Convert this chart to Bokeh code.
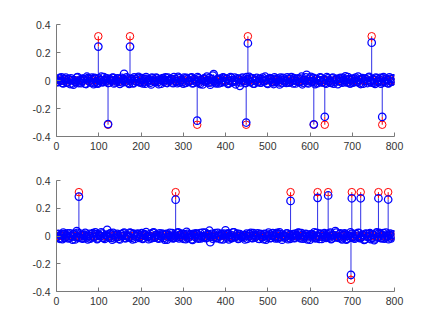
from bokeh.plotting import figure
from bokeh.layouts import column
from bokeh.models import FixedTicker, CustomJSTickFormatter
from bokeh.embed import file_html
from bokeh.resources import INLINE

# ---- data (values in thousandths) ----
noise_step = 4
# estimate noise at indices 0,4,8,...
top_noise = [5,-12,18,22,-20,8,-15,10,-25,3,
-30,-9,20,-18,6,-3,12,-22,27,9,
-14,21,-26,11,-19,15,4,-11,24,-8,
13,-16,7,19,-21,2,16,-10,9,-13,
48,-7,14,-24,10,-17,22,-5,18,-12,
6,-20,11,25,-9,3,-28,15,-6,20,
-11,8,-23,17,4,-15,21,-2,12,-19,
9,-8,26,-14,5,-22,13,19,-10,-4,
23,-17,7,-12,16,-25,2,11,-7,28,
-16,-30,9,45,-13,6,-21,14,-8,18,
-6,12,-19,24,-11,4,-27,16,8,-14,
20,-3,-18,10,26,-9,15,-22,3,-12,
11,-16,21,-7,5,-24,17,9,-13,22,
-10,14,-28,6,19,-5,-17,12,-9,25,
-20,8,-4,16,-11,27,-15,3,40,-21,
13,-6,18,-26,10,-2,22,-14,7,-18,
24,-9,-12,15,-23,5,11,-7,19,-16,
4,30,-13,9,-20,14,-8,21,-11,6,
-25,17,-3,12,-18,26,-6,10,-15,20,
-10,7,-22,16,-4,13,-19,23,-8,11]
# estimate noise at indices 2,6,10,...
top_noise_b = [-9,14,-3,-17,11,20,-13,7,16,-21,
2,-11,24,-6,-19,13,8,-25,17,-4,
10,-15,19,-8,-22,5,27,-12,3,15,
-18,9,-2,21,-14,-7,12,-24,18,6,
-10,23,-16,1,14,-20,9,-5,26,-13,
17,-8,-23,11,4,-15,20,-1,-12,16,
-26,7,13,-9,22,-18,3,10,-14,25,
-6,-19,15,2,-11,21,-17,8,-3,18,
-21,12,-7,24,-15,5,-28,16,-9,1,
19,-13,35,-4,-20,11,7,-16,23,-10,
14,-24,-2,18,-8,21,-12,9,-38,13,
-5,-17,24,6,-11,15,-22,3,19,-7,
-14,10,-3,27,-19,8,16,-9,-25,12,
4,-13,20,-18,7,-6,23,-15,11,-2,
17,-21,9,-10,14,-27,5,22,-16,-4,
26,-8,-14,12,-19,3,18,-11,8,-23,
15,-1,-17,21,-9,10,-26,13,-5,19,
-12,6,24,-20,2,-15,11,-7,28,-18,
9,-22,14,-3,20,-10,-16,7,-24,15,
-6,18,-11,25,-14,3,-20,12,-8,16]

bot_noise = [-8,15,-20,11,24,-13,6,-18,19,-4,
12,-25,35,-9,17,-15,8,22,-11,3,
-19,14,-6,26,-22,10,-3,18,-14,7,
45,-12,20,-27,9,-7,16,-20,13,-2,
25,-16,5,-10,21,-24,11,-5,17,-13,
8,-21,14,28,-8,2,-18,23,-12,6,
-15,19,-4,10,-26,15,-9,22,-3,-17,
12,-11,27,-6,18,-20,4,30,-14,9,
-23,16,-7,13,-19,21,-2,-12,24,-10,
7,-45,15,-8,20,-16,3,-22,11,18,
40,14,-24,9,-13,26,-7,17,-18,2,
-5,-11,6,-20,13,23,-15,8,-3,19,
-21,10,-9,16,-26,4,12,-14,21,-6,
15,-18,27,-8,3,-12,18,-23,9,-4,
14,-16,7,25,-11,20,-19,2,11,-9,
-27,13,6,-15,22,-7,17,-21,10,-3,
16,-12,24,-18,5,35,-8,-14,19,-24,
8,12,-20,3,26,-10,-16,15,-5,21,
-13,9,-28,18,-6,14,-22,11,-30,17,
-9,23,-15,6,-19,25,-4,10,-17,12]
bot_noise_b = [11,-16,7,-22,14,-5,19,-12,3,-26,
17,-8,23,-14,6,-19,10,-2,-24,15,
-11,20,-7,13,-17,4,26,-10,-21,8,
-3,16,-13,22,-18,9,-6,-25,12,19,
-15,5,-9,24,-12,18,-20,2,13,-7,
21,-16,8,-4,-23,15,-11,27,-6,10,
-19,3,17,-14,11,-26,6,-8,20,-13,
-2,23,-17,9,-10,14,-22,16,-5,12,
-28,7,19,-11,4,-18,25,-9,-15,13,
38,-6,-20,10,-13,22,-3,16,-24,8,
-12,19,-7,-16,26,-4,11,-21,14,-9,
5,-25,18,-2,13,-14,21,-10,7,-19,
16,-6,-23,12,-11,24,-15,3,9,-17,
22,-8,14,-27,6,-3,19,-12,-20,10,
-14,17,-5,23,-18,8,-9,15,-24,4,
12,-10,26,-16,2,-21,13,-7,20,-13,
-4,18,-22,9,-11,25,-8,14,-17,6,
19,-26,3,-12,16,-6,-19,11,23,-15,
-9,7,-24,14,-2,20,-13,8,-18,27,
-7,13,-16,21,-10,4,-23,17,-5,10]

# true (red) zero markers shown at every 8th index
zero_step = 8
n_samples = 800

top_spike_idx = [99, 122, 174, 333, 449, 453, 609, 635, 746, 771]
top_true = [0.316, -0.316, 0.316, -0.316, -0.316, 0.316, -0.316, -0.316, 0.316, -0.316]
top_est = [0.242, -0.311, 0.242, -0.287, -0.300, 0.266, -0.313, -0.259, 0.270, -0.260]

bot_spike_idx = [53, 282, 554, 618, 643, 697, 699, 720, 762, 785]
bot_true = [0.316, 0.316, 0.316, 0.316, 0.316, -0.316, 0.316, 0.316, 0.316, 0.316]
bot_est = [0.284, 0.262, 0.253, 0.275, 0.292, -0.280, 0.272, 0.272, 0.272, 0.263]

y_ticks = [-0.4, -0.2, 0, 0.2, 0.4]
x_ticks = [0, 100, 200, 300, 400, 500, 600, 700, 800]

BLUE = "#0000ff"
STEM_BLUE = "#2f2fe6"
RED = "#ff0000"
FONT = "Liberation Sans"


def make_plot(noise_a, noise_b, sidx, strue, sest, height, top_b, bot_b):
    p = figure(width=430, height=height, x_range=(0, 800), y_range=(-0.4, 0.4),
               output_backend="svg", toolbar_location=None,
               min_border_left=56, min_border_right=36,
               min_border_top=top_b, min_border_bottom=bot_b)
    p.outline_line_color = None
    p.grid.visible = False
    p.background_fill_color = "white"
    p.border_fill_color = "white"

    xa = [i * noise_step for i in range(len(noise_a))]
    xb = [i * noise_step + 2 for i in range(len(noise_b))]
    nx = xa + xb
    ny = [v / 1000.0 for v in noise_a] + [v / 1000.0 for v in noise_b]

    # true signal (red): zeros plus spikes; red stem only visible beyond the estimate
    zx = list(range(0, n_samples + 1, zero_step))
    rx = zx + sidx
    ry = [0.0] * len(zx) + strue
    p.segment(x0=sidx, y0=sest, x1=sidx, y1=strue, line_color=RED, line_width=1)
    p.scatter(rx, ry, marker="circle", size=7.5, fill_color=None, line_color=RED, line_width=1)

    # estimate (blue)
    bx = nx + sidx
    by = ny + sest
    p.segment(x0=bx, y0=[0] * len(bx), x1=bx, y1=by, line_color=STEM_BLUE, line_width=1)
    p.scatter(bx, by, marker="circle", size=7.5, fill_color=None, line_color=BLUE, line_width=1.25)

    for ax in (p.xaxis[0], p.yaxis[0]):
        ax.axis_line_color = "#7a7a7a"
        ax.major_tick_line_color = "#7a7a7a"
        ax.major_tick_in = 4
        ax.major_tick_out = 0
        ax.minor_tick_line_color = None
        ax.major_label_text_font = FONT
        ax.major_label_text_font_size = "10.5px"
        ax.major_label_text_color = "#333333"
    p.xaxis[0].ticker = FixedTicker(ticks=x_ticks)
    p.yaxis[0].ticker = FixedTicker(ticks=y_ticks)
    p.xaxis[0].major_label_standoff = 5
    p.yaxis[0].major_label_standoff = 6
    p.yaxis[0].formatter = CustomJSTickFormatter(
        code="var s = tick.toFixed(1); if (s === '0.0' || s === '-0.0') { return '0'; } return s;")
    return p


p1 = make_plot(top_noise, top_noise_b, top_spike_idx, top_true, top_est, 160, 24, 24)
p2 = make_plot(bot_noise, bot_noise_b, bot_spike_idx, bot_true, bot_est, 160, 20, 29)

layout = column(p1, p2, spacing=0)
open("out.html", "w").write(file_html(layout, INLINE))
